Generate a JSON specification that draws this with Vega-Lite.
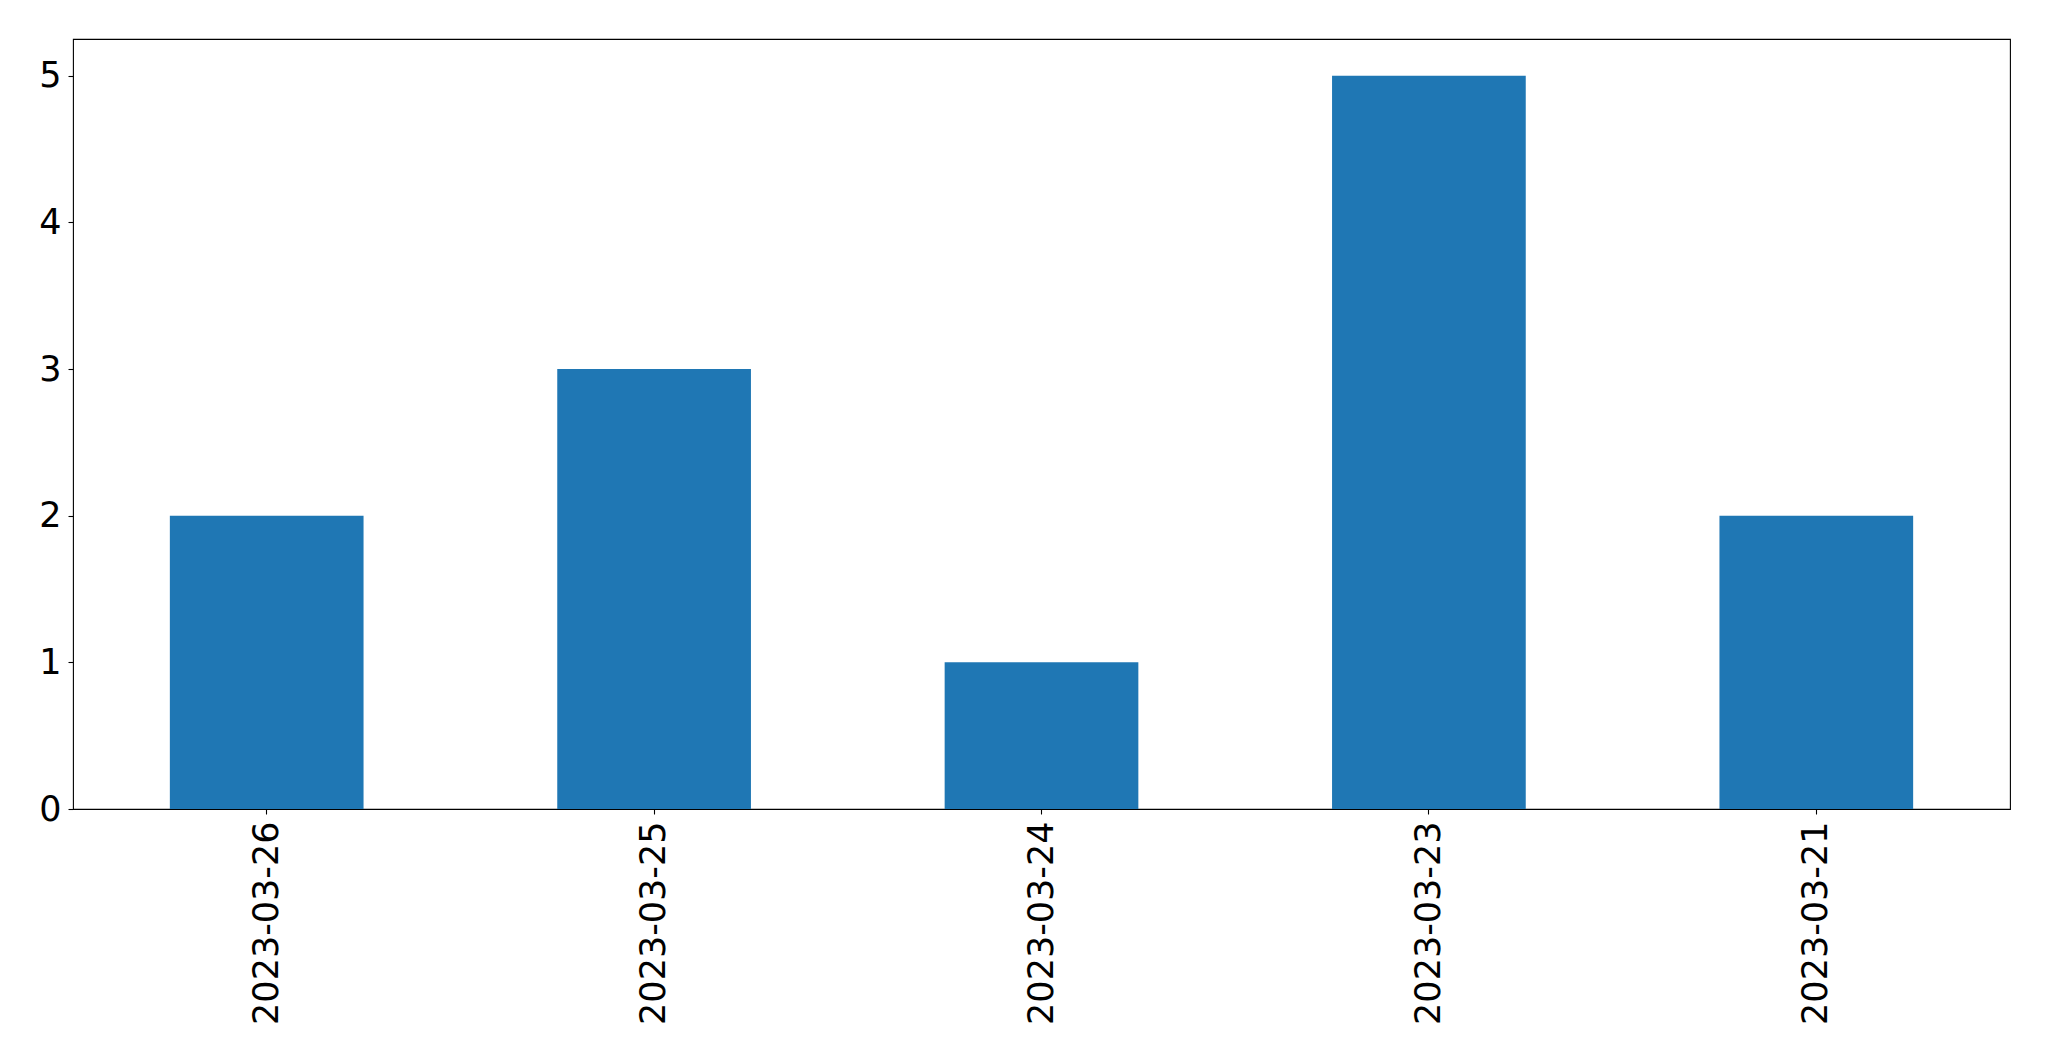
{
  "$schema": "https://vega.github.io/schema/vega-lite/v6.json",
  "width": 1937,
  "height": 770,
  "autosize": {"type": "none"},
  "padding": {"left": 73, "top": 39, "right": 39, "bottom": 252},
  "background": "white",
  "config": {
    "font": "DejaVu Sans",
    "view": {"stroke": "black", "strokeWidth": 1.1},
    "axis": {
      "domain": false,
      "grid": false,
      "ticks": true,
      "tickColor": "black",
      "tickSize": 5,
      "tickWidth": 1.1,
      "labelColor": "black",
      "labelFont": "DejaVu Sans",
      "labelFontSize": 35,
      "labelLimit": 0,
      "title": null
    }
  },
  "data": {
    "values": [
      {"date": "2023-03-26", "count": 2},
      {"date": "2023-03-25", "count": 3},
      {"date": "2023-03-24", "count": 1},
      {"date": "2023-03-23", "count": 5},
      {"date": "2023-03-21", "count": 2}
    ]
  },
  "mark": {"type": "bar", "color": "#1f77b4"},
  "encoding": {
    "x": {
      "field": "date",
      "type": "nominal",
      "sort": null,
      "scale": {"paddingInner": 0.5, "paddingOuter": 0.25},
      "axis": {"labelAngle": -90, "labelPadding": 7, "labelAlign": "right", "labelBaseline": "middle"}
    },
    "y": {
      "field": "count",
      "type": "quantitative",
      "scale": {"domain": [0, 5.25], "nice": false},
      "axis": {"values": [0, 1, 2, 3, 4, 5], "labelPadding": 7, "format": "d"}
    }
  }
}
